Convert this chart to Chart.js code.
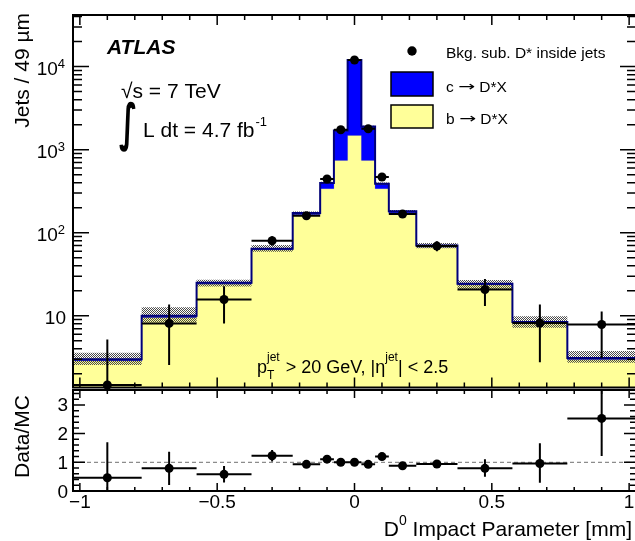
<!DOCTYPE html>
<html>
<head>
<meta charset="utf-8">
<script src="https://cdn.jsdelivr.net/npm/chart.js@4.4.1/dist/chart.umd.min.js"></script>
<style>
  html, body { margin: 0; padding: 0; background: #fff; overflow: hidden; }
  body { width: 635px; height: 541px; position: relative; }
  canvas { position: absolute; left: 0; }
  #mainChart { top: 0; }
  #ratioChart { top: 380px; }
</style>
</head>
<body>
<canvas id="mainChart" width="650" height="392"></canvas>
<canvas id="ratioChart" width="650" height="161"></canvas>
<script>
// binning of the D0 impact parameter (mm), variable widths
const binEdges = [-1.025, -0.775, -0.575, -0.375, -0.225, -0.125, -0.075, -0.025, 0.025, 0.075, 0.125, 0.225, 0.375, 0.575, 0.775, 1.025];
const binCenters = [-0.9, -0.675, -0.475, -0.3, -0.175, -0.1, -0.05, 0, 0.05, 0.1, 0.175, 0.3, 0.475, 0.675, 0.9];

// MC templates: yellow = b -> D*X, top of the blue = b + c
const bJets    = [2.85, 9.5, 24, 62, 165, 339, 741, 1482, 741, 339, 171, 67, 23.5, 8.1, 2.95];
const mcTotal  = [3.0, 10.0, 25, 64, 173, 397, 1700, 12000, 1900, 389, 181, 70, 24.3, 8.4, 3.1];
const mcBandHi = [3.6, 12.7, 27.2, 71, 180, 410, 1740, 12250, 1945, 402, 188, 75, 27, 9.9, 3.76];
const mcBandLo = [2.55, 8.3, 22.5, 59, 166, 385, 1660, 11750, 1855, 376, 174, 65, 21, 7.2, 2.72];

// background subtracted data
const dataJets = [1.47, 8.1, 15.7, 80, 160, 443, 1735, 12000, 1780, 469, 168, 69, 20.7, 8.2, 7.85];
const dataUp   = [5.2, 13.7, 22.7, 90.6, 175, 470, 1790, 12150, 1840, 500, 182, 79, 27.8, 13.7, 11.3];
const dataDown = [0.5, 2.55, 8.1, 70, 147, 418, 1680, 11850, 1720, 440, 155, 60, 13.1, 2.76, 3.1];

// Data/MC
const ratio     = [0.46, 0.79, 0.58, 1.23, 0.93, 1.11, 1.0, 1.0, 0.93, 1.2, 0.88, 0.94, 0.79, 0.96, 2.53];
const ratioUp   = [1.7, 1.37, 0.87, 1.43, 0.98, 1.16, 1.04, 1.03, 0.98, 1.26, 0.93, 1.06, 1.11, 1.66, 3.7];
const ratioDown = [0.0, 0.21, 0.3, 1.03, 0.88, 1.06, 0.96, 0.97, 0.88, 1.14, 0.83, 0.82, 0.5, 0.29, 1.22];
const ratioRef = 1;

const xTicks = [-1, -0.5, 0, 0.5, 1];
const xTickLabels = ["\u22121", "\u22120.5", "0", "0.5", "1"];
const yTicks = [10, 100, 1000, 10000];
const yTickExp = ["", "2", "3", "4"];
const ratioTicks = [0, 1, 2, 3];
const ratioTickLabels = ["0", "1", "2", "3"];

const FONT = "'Liberation Sans', Arial, Helvetica, sans-serif";

// histogram outline: one point per bin edge, value held until the next edge
function histPoints(vals) {
  return binEdges.map((e, i) => ({ x: e, y: vals[Math.min(i, vals.length - 1)] }));
}

function makeHatch(ctx) {
  const c = document.createElement("canvas");
  c.width = 2;
  c.height = 2;
  const g = c.getContext("2d");
  g.fillStyle = "#4a4a4a";
  g.fillRect(0, 0, 1, 1);
  g.fillRect(1, 1, 1, 1);
  return ctx.createPattern(c, "repeat");
}

function errorBars(chart, vals, up, down) {
  const { ctx, chartArea: a, scales: { x, y } } = chart;
  ctx.save();
  ctx.beginPath();
  ctx.rect(a.left, a.top, a.right - a.left, a.bottom - a.top);
  ctx.clip();
  ctx.strokeStyle = "#000";
  ctx.lineWidth = 2;
  ctx.beginPath();
  vals.forEach((v, i) => {
    const py = y.getPixelForValue(v);
    ctx.moveTo(x.getPixelForValue(binEdges[i]), py);
    ctx.lineTo(x.getPixelForValue(binEdges[i + 1]), py);
    const cx = x.getPixelForValue(binCenters[i]);
    ctx.moveTo(cx, y.getPixelForValue(up[i]));
    ctx.lineTo(cx, y.getPixelForValue(Math.max(down[i], y.min * 0.5)));
  });
  ctx.stroke();
  ctx.restore();
}

function xTicksMarks(ctx, a, x, major, minor) {
  for (let k = -10; k <= 10; k++) {
    const px = x.getPixelForValue(k / 10);
    const len = k % 5 === 0 ? major : minor;
    ctx.moveTo(px, a.bottom);
    ctx.lineTo(px, a.bottom - len);
    ctx.moveTo(px, a.top);
    ctx.lineTo(px, a.top + len);
  }
}

function rotatedText(ctx, text, x, y, align) {
  ctx.save();
  ctx.translate(x, y);
  ctx.rotate(-Math.PI / 2);
  ctx.textAlign = align;
  ctx.textBaseline = "alphabetic";
  ctx.fillText(text, 0, 0);
  ctx.restore();
}

// "c -> D*X" legend text, the arrow is stretched to look like the TLatex one
function arrowText(ctx, left, right, x, y) {
  ctx.font = "15.5px " + FONT;
  ctx.fillText(left, x, y);
  x += ctx.measureText(left).width;
  ctx.font = "15px 'DejaVu Sans', sans-serif";
  const wA = ctx.measureText("\u2192").width;
  ctx.save();
  ctx.translate(x, y - 0.5);
  ctx.scale(1.35, 0.9);
  ctx.fillText("\u2192", 0, 0);
  ctx.restore();
  x += wA * 1.35;
  ctx.font = "15.5px " + FONT;
  ctx.fillText(right, x, y);
}

const mainCtx = document.getElementById("mainChart").getContext("2d");
const hatch = makeHatch(mainCtx);

const mainDeco = {
  id: "mainDeco",
  beforeDatasetDraw(chart, args) {
    if (args.index === 5) errorBars(chart, dataJets, dataUp, dataDown);
  },
  afterDraw(chart) {
    const { ctx, chartArea: a, scales: { x, y } } = chart;
    ctx.save();
    ctx.strokeStyle = "#000";
    ctx.lineWidth = 1.5;
    ctx.beginPath();
    xTicksMarks(ctx, a, x, 10, 5);
    for (let e = 0; e <= 4; e++) {
      for (let m = 1; m <= 9; m++) {
        const v = m * Math.pow(10, e);
        if (v < y.min || v > y.max) continue;
        const py = y.getPixelForValue(v);
        const len = m === 1 ? 16 : 9;
        ctx.moveTo(a.left, py);
        ctx.lineTo(a.left + len, py);
        ctx.moveTo(a.right, py);
        ctx.lineTo(a.right - len, py);
      }
    }
    ctx.stroke();
    ctx.lineWidth = 2;
    ctx.strokeRect(a.left, a.top, a.right - a.left, a.bottom - a.top);

    ctx.fillStyle = "#000";
    ctx.textBaseline = "alphabetic";
    ctx.textAlign = "left";
    // y tick labels 10, 10^2 ...
    yTicks.forEach((v, i) => {
      const py = y.getPixelForValue(v);
      const exp = yTickExp[i];
      ctx.font = "13px " + FONT;
      const wExp = exp ? ctx.measureText(exp).width : 0;
      ctx.font = "19px " + FONT;
      const wBase = ctx.measureText("10").width;
      const right = exp ? 65 : 66;
      ctx.fillText("10", right - wExp - wBase, py + 8.5);
      if (exp) {
        ctx.font = "13px " + FONT;
        ctx.fillText(exp, right - wExp, py + 1.5);
      }
    });

    ctx.font = "21px " + FONT;
    rotatedText(ctx, "Jets / 49 \u00b5m", 29, 13, "right");

    // ATLAS label block
    ctx.font = "italic bold 21px " + FONT;
    ctx.fillText("ATLAS", 107, 54);
    ctx.font = "21px " + FONT;
    ctx.fillText("\u221as = 7 TeV", 121, 98);
    ctx.fillText("L dt = 4.7 fb", 143, 137);
    const wL = ctx.measureText("L dt = 4.7 fb").width;
    ctx.font = "13px " + FONT;
    ctx.fillText("-1", 143 + wL + 1, 126);
    ctx.save();
    ctx.translate(119, 140);
    ctx.scale(1, 1.7);
    ctx.font = "bold 30px 'DejaVu Sans', sans-serif";
    ctx.fillText("\u222b", 0, 0);
    ctx.restore();

    // legend
    ctx.beginPath();
    ctx.arc(412, 51, 4.7, 0, Math.PI * 2);
    ctx.fill();
    ctx.lineWidth = 1.5;
    ctx.fillStyle = "#0000ff";
    ctx.fillRect(391, 72, 42, 24);
    ctx.strokeRect(391, 72, 42, 24);
    ctx.fillStyle = "#ffff99";
    ctx.fillRect(391, 105, 42, 23);
    ctx.strokeRect(391, 105, 42, 23);
    ctx.fillStyle = "#000";
    ctx.font = "15.5px " + FONT;
    ctx.fillText("Bkg. sub. D* inside jets", 446, 57.5);
    arrowText(ctx, "c ", " D*X", 446, 91.5);
    arrowText(ctx, "b ", " D*X", 446, 123.5);

    // kinematic selection
    let cx = 257;
    const base = 372.5;
    ctx.font = "18px " + FONT;
    ctx.fillText("p", cx, base);
    cx += ctx.measureText("p").width;
    ctx.font = "12px " + FONT;
    ctx.fillText("T", cx, base + 6.5);
    ctx.fillText("jet", cx, base - 12);
    cx += ctx.measureText("jet").width + 1;
    ctx.font = "18px " + FONT;
    ctx.fillText(" > 20 GeV, |\u03b7", cx, base);
    cx += ctx.measureText(" > 20 GeV, |\u03b7").width;
    ctx.font = "12px " + FONT;
    ctx.fillText("jet", cx, base - 12);
    cx += ctx.measureText("jet").width;
    ctx.font = "18px " + FONT;
    ctx.fillText("| < 2.5", cx, base);
    ctx.restore();
  }
};

new Chart(mainCtx, {
  type: "line",
  data: {
    datasets: [
      { label: "b \u2192 D*X", data: histPoints(bJets), stepped: true, fill: "start",
        backgroundColor: "#ffff99", borderColor: "#dcdc8c", borderWidth: 1, pointRadius: 0, order: 5 },
      { label: "c \u2192 D*X", data: histPoints(mcTotal), stepped: true, fill: "-1",
        backgroundColor: "#0000ff", borderColor: "rgba(0,0,0,0)", borderWidth: 0, pointRadius: 0, order: 4 },
      { label: "MC stat hi", data: histPoints(mcBandHi), stepped: true, fill: "+1",
        backgroundColor: hatch, borderColor: "rgba(0,0,0,0)", borderWidth: 0, pointRadius: 0, order: 3 },
      { label: "MC stat lo", data: histPoints(mcBandLo), stepped: true, fill: false,
        borderColor: "rgba(0,0,0,0)", borderWidth: 0, pointRadius: 0, order: 3 },
      { label: "MC total", data: histPoints(mcTotal), stepped: true, fill: false,
        borderColor: "#00007a", borderWidth: 2, pointRadius: 0, order: 2 },
      { type: "scatter", label: "Bkg. sub. D* inside jets",
        data: binCenters.map((x, i) => ({ x: x, y: dataJets[i] })),
        pointRadius: 4.5, backgroundColor: "#000", borderWidth: 0, clip: false, order: 1 }
    ]
  },
  options: {
    responsive: false,
    animation: false,
    devicePixelRatio: 1,
    events: [],
    layout: { padding: { left: 73, top: 15, right: 14, bottom: 4 } },
    plugins: { legend: { display: false }, tooltip: { enabled: false } },
    scales: {
      x: { type: "linear", min: -1.025, max: 1.025, display: false },
      y: { type: "logarithmic", min: 1.37, max: 41800, display: false }
    }
  },
  plugins: [mainDeco]
});

const ratioDeco = {
  id: "ratioDeco",
  beforeDatasetDraw(chart, args) {
    if (args.index === 1) errorBars(chart, ratio, ratioUp, ratioDown);
  },
  afterDraw(chart) {
    const { ctx, chartArea: a, scales: { x, y } } = chart;
    ctx.save();
    ctx.strokeStyle = "#000";
    ctx.lineWidth = 1.5;
    ctx.beginPath();
    xTicksMarks(ctx, a, x, 8, 4);
    for (let k = 0; k <= 17; k++) {
      const v = k / 5;
      if (v > y.max) continue;
      const py = y.getPixelForValue(v);
      const len = k % 5 === 0 ? 12 : 6;
      ctx.moveTo(a.left, py);
      ctx.lineTo(a.left + len, py);
      ctx.moveTo(a.right, py);
      ctx.lineTo(a.right - len, py);
    }
    ctx.stroke();
    ctx.lineWidth = 2;
    ctx.strokeRect(a.left, a.top, a.right - a.left, a.bottom - a.top);

    ctx.fillStyle = "#000";
    ctx.font = "19px " + FONT;
    ctx.textBaseline = "alphabetic";
    ctx.textAlign = "right";
    ratioTicks.forEach((v, i) => {
      ctx.fillText(ratioTickLabels[i], 68, y.getPixelForValue(v) + 6.5);
    });
    ctx.textAlign = "center";
    xTicks.forEach((v, i) => {
      ctx.fillText(xTickLabels[i], x.getPixelForValue(v), 128);
    });

    ctx.font = "21px " + FONT;
    rotatedText(ctx, "Data/MC", 29, 56.5, "center");

    // x title with superscript
    ctx.textAlign = "left";
    const rest = " Impact Parameter [mm]";
    const wRest = ctx.measureText(rest).width;
    const wD = ctx.measureText("D").width;
    ctx.font = "14px " + FONT;
    const wSup = ctx.measureText("0").width;
    const x0 = 632 - wRest - wSup - wD;
    ctx.fillText("0", x0 + wD, 145);
    ctx.font = "21px " + FONT;
    ctx.fillText("D", x0, 156);
    ctx.fillText(rest, x0 + wD + wSup, 156);
    ctx.restore();
  }
};

new Chart(document.getElementById("ratioChart"), {
  type: "line",
  data: {
    datasets: [
      { label: "unity", data: [{ x: -1.025, y: ratioRef }, { x: 1.025, y: ratioRef }],
        borderColor: "#707070", borderWidth: 1, borderDash: [4, 3], pointRadius: 0, fill: false, order: 2 },
      { type: "scatter", label: "Data/MC",
        data: binCenters.map((x, i) => ({ x: x, y: ratio[i] })),
        pointRadius: 4.5, backgroundColor: "#000", borderWidth: 0, clip: false, order: 1 }
    ]
  },
  options: {
    responsive: false,
    animation: false,
    devicePixelRatio: 1,
    events: [],
    layout: { padding: { left: 73, top: 10, right: 14, bottom: 50 } },
    plugins: { legend: { display: false }, tooltip: { enabled: false } },
    scales: {
      x: { type: "linear", min: -1.025, max: 1.025, display: false },
      y: { type: "linear", min: 0, max: 3.52, display: false }
    }
  },
  plugins: [ratioDeco]
});
</script>
</body>
</html>
